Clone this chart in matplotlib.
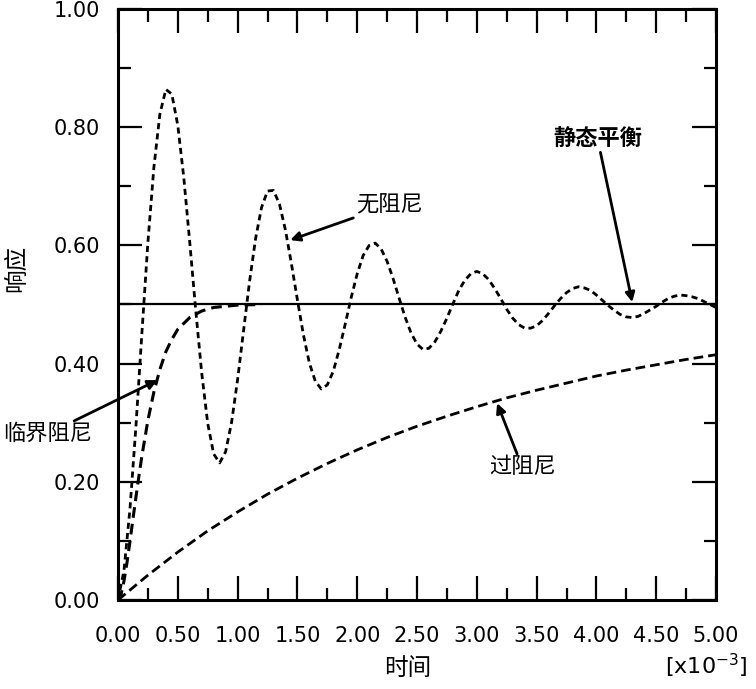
import matplotlib
matplotlib.use('Agg')
import matplotlib.pyplot as plt
from matplotlib.ticker import MultipleLocator, FormatStrFormatter

plt.rcParams['font.family'] = ['DejaVu Sans', 'Noto Sans CJK SC']
plt.rcParams['xtick.direction'] = 'in'
plt.rcParams['ytick.direction'] = 'in'

# time axis in units of 1e-3
undamped_t = [0.00, 0.05, 0.10, 0.15, 0.20, 0.25, 0.30, 0.35, 0.40, 0.45,
              0.50, 0.55, 0.60, 0.65, 0.70, 0.75, 0.80, 0.85, 0.90, 0.95,
              1.00, 1.05, 1.10, 1.15, 1.20, 1.25, 1.30, 1.35, 1.40, 1.45,
              1.50, 1.55, 1.60, 1.65, 1.70, 1.75, 1.80, 1.85, 1.90, 1.95,
              2.00, 2.05, 2.10, 2.15, 2.20, 2.25, 2.30, 2.35, 2.40, 2.45,
              2.50, 2.55, 2.60, 2.65, 2.70, 2.75, 2.80, 2.85, 2.90, 2.95,
              3.00, 3.05, 3.10, 3.15, 3.20, 3.25, 3.30, 3.35, 3.40, 3.45,
              3.50, 3.55, 3.60, 3.65, 3.70, 3.75, 3.80, 3.85, 3.90, 3.95,
              4.00, 4.05, 4.10, 4.15, 4.20, 4.25, 4.30, 4.35, 4.40, 4.45,
              4.50, 4.55, 4.60, 4.65, 4.70, 4.75, 4.80, 4.85, 4.90, 4.95,
              5.00]
undamped_y = [0.000, 0.050, 0.154, 0.294, 0.452, 0.605, 0.732, 0.822, 0.864, 0.856,
              0.803, 0.715, 0.605, 0.490, 0.384, 0.299, 0.247, 0.232, 0.251, 0.301,
              0.373, 0.456, 0.539, 0.611, 0.664, 0.692, 0.693, 0.670, 0.626, 0.569,
              0.508, 0.449, 0.401, 0.370, 0.357, 0.364, 0.387, 0.424, 0.467, 0.512,
              0.552, 0.583, 0.600, 0.604, 0.594, 0.573, 0.544, 0.511, 0.479, 0.452,
              0.433, 0.424, 0.426, 0.437, 0.455, 0.477, 0.501, 0.524, 0.541, 0.552,
              0.556, 0.552, 0.542, 0.527, 0.510, 0.492, 0.477, 0.466, 0.460, 0.460,
              0.464, 0.473, 0.485, 0.498, 0.510, 0.520, 0.527, 0.530, 0.528, 0.524,
              0.516, 0.507, 0.498, 0.490, 0.483, 0.479, 0.478, 0.480, 0.485, 0.491,
              0.497, 0.504, 0.510, 0.514, 0.516, 0.515, 0.513, 0.510, 0.505, 0.500,
              0.495]

critical_t = [0.0, 0.025, 0.05, 0.075, 0.1, 0.125, 0.15, 0.175, 0.2, 0.25, 0.3,
              0.35, 0.4, 0.45, 0.5, 0.6, 0.7, 0.8, 0.9, 1.0, 1.2]
critical_y = [0.0, 0.009, 0.032, 0.063, 0.099, 0.137, 0.174, 0.210, 0.244, 0.304, 0.352,
              0.390, 0.420, 0.441, 0.458, 0.478, 0.489, 0.495, 0.497, 0.499, 0.500]

over_t = [0.0, 0.25, 0.5, 0.75, 1.0, 1.25, 1.5, 1.75, 2.0, 2.25, 2.5,
          2.75, 3.0, 3.25, 3.5, 3.75, 4.0, 4.25, 4.5, 4.75, 5.0]
over_y = [0.0, 0.042, 0.081, 0.117, 0.149, 0.179, 0.206, 0.231, 0.254, 0.275, 0.294,
          0.311, 0.327, 0.342, 0.355, 0.367, 0.379, 0.389, 0.398, 0.407, 0.415]

static_t = [0.0, 5.0]
static_y = [0.5, 0.5]

fig = plt.figure(figsize=(7.56, 6.89), dpi=100)
ax = fig.add_axes([118 / 756, 89 / 689, 598 / 756, 591 / 689])

ax.plot(static_t, static_y, color='black', lw=1.6, solid_capstyle='butt')
ax.plot(over_t, over_y, color='black', lw=2.0, dashes=(3.5, 1.8))
ax.plot(critical_t, critical_y, color='black', lw=2.2, dashes=(3.5, 2.0))
ax.plot(undamped_t, undamped_y, color='black', lw=2.0, dashes=(2.2, 1.5))

ax.set_xlim(0, 5.0)
ax.set_ylim(0, 1.0)
ax.xaxis.set_major_locator(MultipleLocator(0.5))
ax.xaxis.set_minor_locator(MultipleLocator(0.25))
ax.yaxis.set_major_locator(MultipleLocator(0.2))
ax.yaxis.set_minor_locator(MultipleLocator(0.1))
ax.xaxis.set_major_formatter(FormatStrFormatter('%.2f'))
ax.yaxis.set_major_formatter(FormatStrFormatter('%.2f'))
ax.tick_params(which='both', top=True, right=True, width=1.6, labelsize=15)
ax.tick_params(which='major', length=17)
ax.tick_params(which='minor', length=9)
ax.tick_params(axis='x', which='major', pad=19)
ax.tick_params(axis='y', which='major', pad=13)
for s in ax.spines.values():
    s.set_linewidth(2.2)

arrow = dict(arrowstyle='-|>', color='black', lw=2.0, mutation_scale=14, shrinkA=0, shrinkB=0)
ax.annotate('静态平衡', xy=(4.30, 0.504), xytext=(4.01, 0.78), fontsize=16, fontweight='bold',
            ha='center', va='center', arrowprops=arrow)
ax.annotate('无阻尼', xy=(1.44, 0.609), xytext=(2.27, 0.668), fontsize=16,
            ha='center', va='center', arrowprops=arrow)
ax.annotate('过阻尼', xy=(3.17, 0.333), xytext=(3.38, 0.225), fontsize=16,
            ha='center', va='center', arrowprops=arrow)
ax.annotate('临界阻尼', xy=(0.33, 0.372), xytext=(-0.59, 0.281), fontsize=16,
            ha='center', va='center', arrowprops=arrow, annotation_clip=False)

fig.text(408 / 756, 1 - 668 / 689, '时间', fontsize=17, ha='center', va='center')
fig.text(16 / 756, 1 - 268 / 689, '响应', fontsize=17, ha='center', va='center', rotation=90)
fig.text(706 / 756, 1 - 666 / 689, '[x10$^{-3}$]', fontsize=16, ha='center', va='center')

plt.savefig('out.png', dpi=100)
